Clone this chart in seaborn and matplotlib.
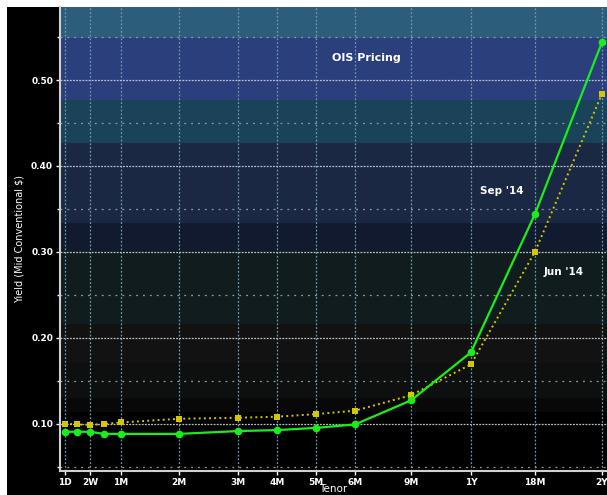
import numpy as np
import pandas as pd
import seaborn as sns
import matplotlib.pyplot as plt
from matplotlib.patches import Rectangle

# tenors (all points) and their position on the curve axis
tenors = ["1D", "1W", "2W", "3W", "1M", "2M", "3M", "4M", "5M", "6M", "9M", "1Y", "18M", "2Y"]
tenor_x = [0, 12, 25, 39, 56, 114, 173, 212, 251, 290, 346, 406, 470, 537]
tick_labels = ["1D", "2W", "1M", "2M", "3M", "4M", "5M", "6M", "9M", "1Y", "18M", "2Y"]

sep14 = [0.0905, 0.0905, 0.0905, 0.088, 0.088, 0.088, 0.0913, 0.0924, 0.095, 0.099,
         0.127, 0.183, 0.344, 0.544]
jun14 = [0.100, 0.099, 0.0985, 0.0995, 0.1013, 0.1056, 0.1068, 0.108, 0.111, 0.115,
         0.133, 0.169, 0.300, 0.484]

# background bands (lower edge, upper edge, colour)
band_lo = [0.0, 0.113, 0.130, 0.1705, 0.216, 0.301, 0.3335, 0.427, 0.477, 0.549]
band_hi = [0.113, 0.130, 0.1705, 0.216, 0.301, 0.3335, 0.427, 0.477, 0.549, 0.60]
band_col = ["#000000", "#080808", "#0e0f0f", "#121212", "#101c1e", "#111a2e",
            "#1b2843", "#1a4259", "#2b3f7d", "#2c5e7c"]

df = pd.DataFrame({"tenor": tenors, "x": tenor_x, "Sep '14": sep14, "Jun '14": jun14})

sns.set_style("dark")
plt.rcParams["font.family"] = ["DejaVu Sans"]

fig = plt.figure(figsize=(6.07, 4.95), dpi=100, facecolor="white")
fig.patches.append(Rectangle((7 / 607, 0), 1, (495 - 7) / 495, transform=fig.transFigure,
                             facecolor="black", edgecolor="none", zorder=-10))
ax = fig.add_axes([60 / 607, 24 / 495, 547 / 607, 464 / 495])
ax.set_zorder(5)
ax.set_facecolor("black")

for lo, hi, c in zip(band_lo, band_hi, band_col):
    ax.axhspan(lo, hi, color=c, zorder=0, lw=0)

sns.lineplot(data=df, x="x", y="Jun '14", ax=ax, color="#d4c600", linestyle=":",
             linewidth=1.4, marker="s", markersize=4, markeredgewidth=0, zorder=3)
sns.lineplot(data=df, x="x", y="Sep '14", ax=ax, color="#1aee1a", linestyle="-",
             linewidth=1.6, marker="o", markersize=5.5, markeredgewidth=0, zorder=4)

tick_x = [tenor_x[tenors.index(t)] for t in tick_labels]
ax.set_xticks(tick_x)
ax.set_xticklabels(tick_labels)
ax.set_xlim(-5, 542)
ax.set_ylim(0.0448, 0.585)
ax.set_yticks([0.1, 0.2, 0.3, 0.4, 0.5])
ax.set_yticklabels(["0.10", "0.20", "0.30", "0.40", "0.50"])
ax.set_yticks([0.05, 0.15, 0.25, 0.35, 0.45, 0.55], minor=True)

ax.grid(False)
for xv in tick_x:
    ax.axvline(xv, color="#6f98ad", linestyle=(0, (1.5, 1.5)), lw=0.9, zorder=1)
for yv in [0.1, 0.2, 0.3, 0.4, 0.5]:
    ax.axhline(yv, color="#b8c0c8", linestyle=(0, (1.5, 1.0)), lw=0.9, zorder=1)
for yv in [0.05, 0.15, 0.25, 0.35, 0.45, 0.55]:
    ax.axhline(yv, color="#8d9ba6", linestyle=(0, (1.5, 4)), lw=0.9, zorder=1)

for s in ["top", "right"]:
    ax.spines[s].set_visible(False)
for s in ["left", "bottom"]:
    ax.spines[s].set_color("#d0d0d0")
    ax.spines[s].set_linewidth(1.5)

ax.tick_params(axis="both", which="major", colors="white", labelsize=6.5, length=3,
               width=1, direction="out", bottom=True, left=True, pad=2)
ax.tick_params(axis="y", which="minor", colors="white", length=2, width=1, left=True)
for lab in ax.get_xticklabels() + ax.get_yticklabels():
    lab.set_fontweight("bold")

ax.set_xlabel("Tenor", color="white", fontsize=7.5, va="bottom")
ax.xaxis.set_label_coords(273 / 547, -23 / 464)
ax.set_ylabel("Yield (Mid Conventional $)", color="white", fontsize=7)
ax.yaxis.set_label_coords(-35 / 547, 0.5)

ax.text(301, 0.5256, "OIS Pricing", color="white", fontsize=8, fontweight="bold",
        ha="center", va="center")
ax.text(437, 0.371, "Sep '14", color="white", fontsize=7.5, fontweight="bold",
        ha="center", va="center")
ax.text(499, 0.2765, "Jun '14", color="white", fontsize=7.5, fontweight="bold",
        ha="center", va="center")

fig.savefig("out.png", dpi=100, facecolor=fig.get_facecolor())
